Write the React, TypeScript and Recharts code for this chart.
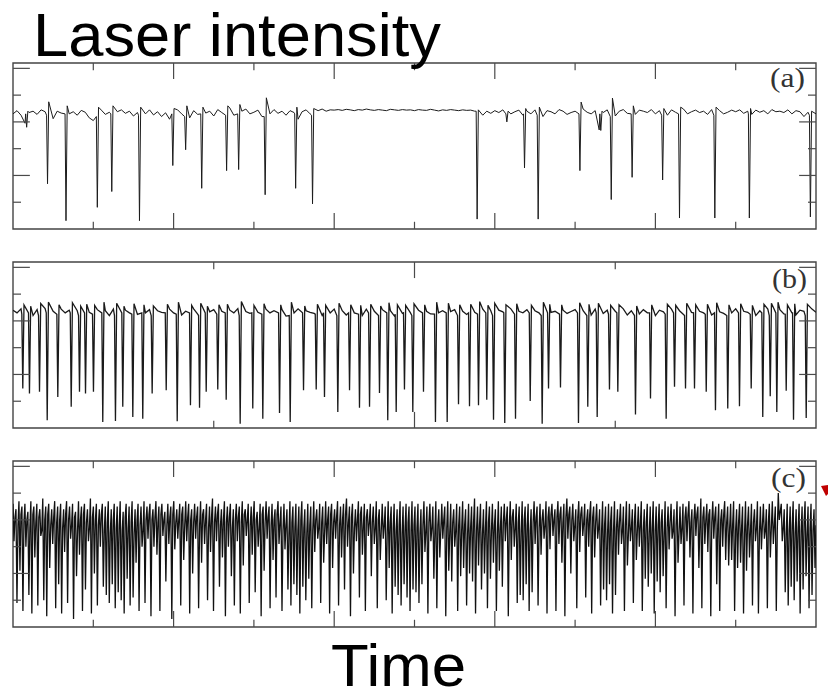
import React from 'react';
import { LineChart, Line, XAxis, YAxis, ReferenceArea, ReferenceLine } from 'recharts';

// ---------- tick positions ----------
const ticksAC = [10, 20, 30, 40, 50, 60, 70, 80, 90];
const ticksB = [25, 50, 75];
const ticksY = [1, 2, 3, 4, 5, 6];

// ---------- panel (a): baseline samples (every 0.5 time units) ----------
const aNoise = [
  4.30, 4.42, 4.25, 3.95, 4.35, 4.40, 4.28, 4.45, 4.38, 4.20, 4.12, 4.40, 4.33, 4.46, 4.30, 4.38, 4.25, 4.43, 4.36, 4.15,
  4.05, 4.30, 4.44, 4.28, 4.36, 4.10, 4.38, 4.45, 4.32, 4.40, 4.22, 4.35, 4.42, 4.30, 4.45, 4.26, 4.38, 4.20, 4.34, 4.10,
  4.38, 4.45, 4.30, 4.40, 4.15, 4.42, 4.28, 4.50, 4.33, 4.40, 4.22, 4.46, 4.35, 4.30, 4.52, 4.25, 4.05, 4.40, 4.48, 4.30,
  4.36, 4.44, 4.20, 4.38, 4.30, 4.46, 4.32, 4.40, 4.25, 4.42, 4.35, 4.10, 4.38, 4.45, 4.30, 4.20, 4.42, 4.48, 4.40, 4.45,
  4.44, 4.46, 4.43, 4.47, 4.45, 4.42, 4.46, 4.44, 4.48, 4.45, 4.43, 4.46, 4.44, 4.42, 4.47, 4.45, 4.43, 4.46, 4.44, 4.45,
  4.42, 4.46, 4.44, 4.43, 4.47, 4.44, 4.41, 4.45, 4.43, 4.46, 4.44, 4.42, 4.45, 4.43, 4.44, 4.40, 4.38, 4.25, 4.40, 4.32,
  4.42, 4.35, 4.45, 4.00, 4.30, 4.38, 4.44, 4.25, 4.40, 4.30, 4.45, 4.36, 4.20, 4.42, 4.38, 4.30, 4.46, 4.40, 4.28, 4.35,
  4.40, 4.25, 4.48, 4.36, 4.30, 4.42, 3.70, 4.35, 4.45, 4.38, 4.22, 4.40, 4.46, 4.32, 4.38, 4.28, 4.44, 4.40, 4.35, 4.46,
  4.30, 4.42, 4.38, 4.25, 4.45, 4.36, 4.40, 4.48, 4.30, 4.38, 4.44, 4.35, 4.40, 4.28, 4.46, 4.38, 4.42, 4.30, 4.36, 4.44,
  4.38, 4.45, 4.32, 4.40, 4.28, 4.44, 4.36, 4.42, 4.30, 4.46, 4.38, 4.40, 4.35, 4.45, 4.30, 4.42, 4.38, 4.20, 4.36, 4.10, 4.30,
];
// dropouts: [time, value just before, minimum, overshoot after]
const aSpikes = [
  [1.7, 4.3, 3.8, 4.4], [4.3, 4.25, 1.69, 4.75], [6.6, 4.3, 0.31, 4.6], [10.5, 4.2, 0.81, 4.55],
  [12.3, 4.3, 1.4, 4.6], [15.75, 4.25, 0.31, 4.55], [19.9, 4.3, 2.37, 4.5], [21.5, 4.2, 2.96, 4.6],
  [23.5, 4.3, 1.52, 4.55], [26.6, 4.25, 2.18, 4.6], [28.1, 4.3, 2.22, 4.65], [31.4, 4.2, 1.28, 4.9],
  [35.2, 4.3, 1.52, 4.55], [37.3, 4.25, 0.94, 4.5], [57.8, 4.4, 0.37, 4.45], [61.5, 4.3, 4.0, 4.4],
  [63.7, 4.3, 2.28, 4.5], [65.4, 4.25, 0.37, 4.55], [70.6, 4.3, 2.18, 4.74], [73.2, 4.3, 3.68, 4.4],
  [74.5, 4.2, 1.1, 4.89], [77.1, 4.3, 1.93, 4.6], [80.9, 4.25, 1.83, 4.5], [83.0, 4.3, 0.41, 4.55],
  [87.4, 4.25, 0.41, 4.55], [91.7, 4.3, 0.41, 4.5], [99.3, 4.25, 0.45, 4.4],
];

// ---------- panel (b) ----------
const bNoise = [
  4.40, 4.30, 4.45, 4.25, 4.38, 4.20, 4.42, 4.32, 4.46, 4.28, 4.36, 4.22, 4.44, 4.30, 4.40, 4.18, 4.38, 4.28, 4.45, 4.32,
  4.25, 4.42, 4.30, 4.38, 4.20, 4.44, 4.34, 4.26, 4.40, 4.30, 4.46, 4.24, 4.36, 4.30, 4.42, 4.20, 4.38, 4.32, 4.28, 4.44,
  4.30, 4.40, 4.22, 4.36, 4.30, 4.45, 4.25, 4.38, 4.20, 4.34, 4.42, 4.28, 4.36, 4.24, 4.40, 4.30, 4.46, 4.22, 4.35, 4.28,
  4.40, 4.32, 4.20, 4.44, 4.30, 4.38, 4.26, 4.42, 4.18, 4.36, 4.30, 4.45, 4.24, 4.38, 4.32, 4.28, 4.42, 4.20, 4.36, 4.30,
  4.44, 4.26, 4.38, 4.22, 4.40, 4.30, 4.35, 4.20, 4.44, 4.28, 4.36, 4.24, 4.42, 4.30, 4.38, 4.18, 4.34, 4.28, 4.45, 4.30,
  4.22, 4.40, 4.32, 4.36, 4.26, 4.44, 4.30, 4.38, 4.20, 4.35, 4.42, 4.28, 4.36, 4.24, 4.40, 4.32, 4.26, 4.44, 4.30, 4.38,
  4.22, 4.40, 4.34, 4.28, 4.45, 4.20, 4.36, 4.30, 4.42, 4.26, 4.38, 4.30, 4.24, 4.44, 4.32, 4.36, 4.20, 4.40, 4.28, 4.35,
  4.42, 4.26, 4.38, 4.30, 4.22, 4.44, 4.34, 4.28, 4.40, 4.24, 4.36, 4.30, 4.45, 4.22, 4.38, 4.32, 4.26, 4.42, 4.30, 4.36,
  4.20, 4.40, 4.34, 4.28, 4.44, 4.30, 4.38, 4.24, 4.42, 4.32, 4.26, 4.36, 4.30, 4.44, 4.22, 4.38, 4.34, 4.28, 4.40, 4.30,
  4.45, 4.24, 4.36, 4.32, 4.40, 4.20, 4.38, 4.30, 4.44, 4.28, 4.34, 4.42, 4.26, 4.38, 4.30, 4.22, 4.40, 4.36, 4.30, 4.44,
  4.32,
];
const bSpikes = [
  [1.22, 4.25, 1.48, 4.6], [2.05, 4.3, 1.29, 4.55], [3.3, 4.2, 1.35, 4.65], [4.26, 4.3, 0.29, 4.7],
  [5.58, 4.25, 1.16, 4.6], [7.25, 4.3, 0.79, 4.68], [8.28, 4.2, 1.35, 4.55], [9.03, 4.3, 1.29, 4.62],
  [10.02, 4.25, 1.35, 4.58], [11.18, 4.3, 0.22, 4.7], [12.76, 4.2, 0.26, 4.66], [13.67, 4.3, 0.79, 4.55],
  [14.92, 4.25, 0.41, 4.64], [16.16, 4.3, 0.35, 4.6], [17.33, 4.2, 1.29, 4.56], [19.08, 4.3, 1.41, 4.62],
  [20.45, 4.25, 0.25, 4.7], [22.1, 4.3, 0.85, 4.58], [23.23, 4.2, 0.76, 4.66], [24.06, 4.3, 1.35, 4.55],
  [25.5, 4.25, 1.44, 4.6], [26.55, 4.3, 1.06, 4.62], [28.29, 4.2, 0.16, 4.72], [29.86, 4.3, 0.73, 4.58],
  [31.11, 4.25, 0.35, 4.64], [33.19, 4.3, 0.56, 4.6], [34.52, 4.2, 0.22, 4.7], [36.18, 4.3, 1.41, 4.56],
  [37.76, 4.25, 1.44, 4.62], [38.79, 4.3, 1.16, 4.58], [40.45, 4.2, 0.6, 4.66], [41.91, 4.3, 1.41, 4.6],
  [43.15, 4.25, 0.76, 4.58], [44.4, 4.3, 0.79, 4.62], [45.64, 4.2, 1.31, 4.56], [46.67, 4.3, 0.29, 4.68],
  [47.72, 4.25, 0.6, 4.6], [48.75, 4.3, 1.44, 4.58], [49.79, 4.2, 0.6, 4.64], [51.12, 4.3, 1.35, 4.6],
  [52.61, 4.25, 0.22, 4.7], [54.07, 4.3, 0.22, 4.66], [55.48, 4.2, 0.89, 4.6], [56.85, 4.3, 0.81, 4.62],
  [57.97, 4.25, 0.85, 4.72], [59.0, 4.3, 1.06, 4.58], [59.84, 4.2, 0.31, 4.66], [61.24, 4.3, 0.19, 4.6],
  [62.58, 4.25, 0.35, 4.64], [64.41, 4.3, 1.01, 4.58], [65.9, 4.2, 0.16, 4.7], [66.69, 4.3, 1.48, 4.62],
  [68.18, 4.25, 1.51, 4.6], [70.42, 4.3, 0.19, 4.68], [71.58, 4.2, 0.79, 4.62], [72.75, 4.3, 0.41, 4.66],
  [74.28, 4.25, 1.44, 4.58], [75.32, 4.3, 1.35, 4.6], [77.52, 4.2, 0.5, 4.56], [79.39, 4.3, 1.1, 4.6],
  [81.34, 4.25, 0.35, 4.62], [82.38, 4.3, 1.54, 4.58], [83.75, 4.2, 1.48, 4.66], [84.87, 4.3, 1.48, 4.6],
  [86.33, 4.25, 1.35, 4.62], [87.48, 4.3, 0.66, 4.68], [89.01, 4.2, 0.73, 4.6], [90.47, 4.3, 0.81, 4.64],
  [91.93, 4.25, 1.48, 4.58], [93.37, 4.3, 0.41, 4.62], [94.3, 4.2, 1.19, 4.66], [95.12, 4.3, 0.6, 4.7],
  [96.29, 4.25, 1.39, 4.6], [97.2, 4.3, 0.31, 4.64], [98.78, 4.2, 0.37, 4.62],
];

// ---------- panel (c): evenly sampled trace (peak, trough) pairs ----------
const cTrace = [
  4.6,3.2, 4.4,0.9, 4.7,2.1, 4.5,0.6, 4.6,3.0, 4.3,1.2, 4.7,0.5, 4.5,2.6, 4.6,0.8, 4.4,3.4, 4.8,1.0, 4.5,0.4, 4.6,2.2, 4.4,3.1, 4.7,0.7,
  4.5,1.6, 4.6,0.5, 4.4,2.8, 4.7,0.9, 4.5,3.3, 4.6,0.3, 4.3,1.9, 4.7,2.7, 4.5,0.6, 4.6,1.4, 4.4,3.2, 4.8,0.5, 4.5,2.0, 4.6,0.8, 4.4,3.0,
  4.6,1.5, 4.5,1.2, 4.7,0.9, 4.4,1.6, 4.6,0.7, 4.5,1.3, 4.7,1.0, 4.3,0.5, 4.6,1.8, 4.5,0.8, 4.7,1.1, 4.4,2.4, 4.6,0.6, 4.5,3.0, 4.7,0.9,
  4.5,3.3, 4.6,0.4, 4.4,3.0, 4.7,2.7, 4.5,0.6, 4.6,3.4, 4.3,1.7, 4.6,3.1, 4.5,0.3, 4.7,2.9, 4.4,3.3, 4.6,0.8, 4.5,2.5, 4.7,3.2, 4.6,0.5,
  4.4,2.0, 4.6,3.3, 4.5,0.7, 4.7,2.4, 4.4,3.1, 4.6,1.0, 4.5,2.8, 4.8,0.6, 4.5,3.2, 4.6,1.5, 4.4,2.6, 4.7,0.4, 4.5,3.0, 4.6,1.9, 4.4,0.8,
  4.6,3.2, 4.5,0.5, 4.7,2.3, 4.4,3.4, 4.6,0.9, 4.5,2.7, 4.7,1.3, 4.3,3.0, 4.6,0.4, 4.5,2.1, 4.7,3.3, 4.5,0.7, 4.6,2.5, 4.4,1.1, 4.7,3.1,
  4.5,0.6, 4.6,2.9, 4.4,1.4, 4.7,0.8, 4.5,1.6, 4.6,1.2, 4.5,0.5, 4.7,1.5, 4.4,1.0, 4.6,1.8, 4.5,0.7, 4.7,2.8, 4.4,3.3, 4.6,0.9, 4.5,2.4,
  4.7,3.1, 4.5,0.5, 4.6,2.2, 4.4,3.3, 4.7,0.8, 4.5,2.6, 4.6,1.4, 4.8,3.0, 4.5,0.4, 4.6,2.0, 4.4,3.2, 4.7,1.1, 4.5,2.7, 4.6,0.6, 4.4,3.4,
  4.6,1.9, 4.5,3.1, 4.7,0.7, 4.4,2.5, 4.6,3.3, 4.5,1.0, 4.7,2.2, 4.5,0.5, 4.6,1.5, 4.4,1.2, 4.7,0.8, 4.5,1.6, 4.6,1.1, 4.5,0.6, 4.7,1.4,
  4.5,1.3, 4.6,0.9, 4.4,1.6, 4.7,2.8, 4.5,0.5, 4.6,3.2, 4.5,1.8, 4.7,0.7, 4.4,2.6, 4.6,3.3, 4.5,0.4, 4.7,2.1, 4.6,1.7, 4.4,3.0, 4.6,0.6,
  4.5,1.9, 4.7,2.2, 4.4,0.8, 4.6,2.0, 4.5,1.7, 4.8,0.5, 4.5,2.3, 4.6,1.4, 4.4,2.0, 4.7,0.7, 4.5,1.8, 4.6,2.4, 4.4,0.6, 4.7,2.1, 4.5,1.5,
  4.6,3.2, 4.5,0.4, 4.7,2.5, 4.4,3.0, 4.6,0.9, 4.5,1.2, 4.7,1.0, 4.5,1.6, 4.6,0.6, 4.4,1.3, 4.7,3.1, 4.5,0.8, 4.6,2.7, 4.4,3.3, 4.7,0.5,
  4.5,2.9, 4.6,3.4, 4.4,0.6, 4.7,3.1, 4.5,2.4, 4.6,0.4, 4.8,3.3, 4.5,2.0, 4.6,3.2, 4.4,0.7, 4.7,2.8, 4.5,3.4, 4.6,1.1, 4.4,3.0, 4.7,0.5,
  4.5,2.6, 4.6,3.3, 4.4,0.8, 4.7,1.4, 4.5,1.0, 4.6,1.6, 4.5,0.5, 4.7,1.2, 4.4,2.7, 4.6,3.1, 4.5,0.6, 4.7,2.3, 4.6,3.2, 4.4,0.9, 4.6,2.5,
  4.5,3.0, 4.7,0.6, 4.4,1.8, 4.6,1.5, 4.5,2.0, 4.7,0.5, 4.5,1.7, 4.6,1.3, 4.4,1.9, 4.7,0.7, 4.5,2.9, 4.6,3.3, 4.4,0.4, 4.7,2.4, 4.5,3.1,
  4.6,0.8, 4.5,3.2, 4.7,2.6, 4.4,0.5, 4.6,3.4, 4.5,2.2, 4.8,0.7, 4.5,3.1, 4.6,2.8, 4.4,0.4, 4.7,3.3, 4.5,1.6, 4.6,0.6, 4.4,3.0, 4.7,2.5,
  4.5,2.3, 4.6,2.5, 4.7,0.6, 4.4,2.2, 4.6,2.4, 4.5,0.5, 4.7,2.1, 4.5,2.6, 4.6,0.8, 4.4,3.2, 4.7,0.5, 4.5,2.9, 4.6,3.3, 4.4,0.7, 4.6,2.6,
  4.7,3.1, 4.5,0.6, 5.0,4.0, 4.6,3.2, 4.4,1.3, 4.6,0.8, 4.5,1.5, 4.7,1.0, 4.4,1.7, 4.6,0.5, 4.5,1.4, 4.7,1.9, 4.5,0.7, 4.6,1.2, 4.4,2.2,
];
// small in-band fluctuation sampled right after each trough
const cBand = [
  4.1,3.8,4.2,3.9,4.0,3.7,4.2,3.9,4.1,3.6,4.0,4.2,3.8,4.1,3.9,
  4.0,3.7,4.2,4.0,3.8,4.1,3.6,4.0,4.2,3.9,3.7,4.1,4.0,3.8,4.2,
  3.6,3.9,3.5,4.0,3.7,3.8,3.6,4.1,3.7,3.9,3.5,4.0,3.8,3.6,4.0,
  4.2,4.0,4.1,3.9,4.2,4.0,3.8,4.1,4.2,3.9,4.0,4.2,3.8,4.1,4.0,
  3.9,4.1,3.8,4.2,4.0,3.7,4.1,3.9,4.2,3.8,4.0,3.9,4.1,3.7,4.0,
  4.1,3.9,4.2,4.0,3.8,4.1,4.0,3.7,4.2,3.9,4.1,3.8,4.0,4.2,3.9,
  3.6,3.8,3.5,3.9,3.7,3.6,4.0,3.7,3.5,3.8,3.6,4.0,3.7,3.9,3.6,
  4.0,4.2,3.9,4.1,3.8,4.0,4.2,3.9,4.1,3.7,4.0,4.2,3.8,4.1,3.9,
  3.9,3.7,4.0,3.6,3.8,3.5,3.9,3.7,3.6,3.8,3.5,3.7,3.9,3.6,3.8,
  3.7,3.5,3.8,3.6,3.9,3.7,3.5,3.8,3.6,4.0,3.7,3.5,3.9,3.6,3.8,
  3.6,3.8,3.5,3.7,3.9,3.6,3.8,3.5,3.7,3.9,3.6,3.8,3.5,3.7,3.9,
  4.0,3.8,4.1,3.7,3.9,3.6,4.0,3.8,3.6,3.9,4.1,3.7,4.0,3.8,4.1,
  4.2,4.0,4.1,4.2,3.9,4.1,4.2,4.0,3.8,4.1,4.2,3.9,4.0,4.2,4.1,
  3.9,3.7,3.6,3.8,3.5,3.9,3.6,3.7,3.9,3.6,3.8,3.5,3.7,3.9,3.6,
  3.8,3.6,3.9,3.5,3.7,3.6,3.8,3.9,3.5,3.7,3.9,3.6,3.8,3.5,3.7,
  4.1,4.2,3.9,4.0,4.2,3.8,4.1,4.0,4.2,3.9,4.1,3.8,4.0,4.2,3.9,
  3.7,3.8,3.6,3.9,3.7,3.5,3.8,3.6,3.9,3.7,3.5,3.8,3.6,3.9,3.7,
  3.8,3.6,4.3,3.7,3.5,3.6,3.8,3.5,3.7,3.6,3.9,3.5,3.7,3.6,3.8,
];

// ---------- build tables ----------
type Pt = { t: number; v: number };
function buildSpiky(noise: number[], spikes: number[][]): Pt[] {
  const step = 100 / (noise.length - 1);
  const pts: Pt[] = [];
  noise.forEach((v, i) => {
    const t = i * step;
    if (spikes.some((s) => t > s[0] - 0.2 && t < s[0] + 0.3)) return;
    pts.push({ t, v });
  });
  spikes.forEach(([t, pre, low, over]) => {
    pts.push({ t: t - 0.12, v: pre });
    pts.push({ t, v: low });
    pts.push({ t: t + 0.15, v: over });
  });
  pts.sort((a, b) => a.t - b.t);
  return pts;
}
function buildDense(trace: number[], band: number[]): Pt[] {
  const seq: number[] = [];
  for (let i = 0; i < band.length; i++) {
    seq.push(trace[2 * i], trace[2 * i + 1], band[i]);
  }
  return seq.map((v, i) => ({ t: (i * 100) / (seq.length - 1), v }));
}
const aData = buildSpiky(aNoise, aSpikes);
const bData = buildSpiky(bNoise, bSpikes);
const cData = buildDense(cTrace, cBand);

const YMAX = 6.2;
const TICK_COLOR = '#4a4a4a';

function Panel({ data, top, ticksX, stepX, lw, color }: { data: Pt[]; top: number; ticksX: number[]; stepX: number; lw: number; color: string }) {
  const xLen = (v: number) => (Math.round(v / stepX) % 2 === 0 ? 0.6 : 0.27);
  const yLen = (v: number) => (v % 2 === 0 ? 2.1 : 1.0);
  return (
    <div style={{ position: 'absolute', left: 10, top, width: 809, height: 172 }}>
      <LineChart width={809} height={172} data={data} margin={{ top: 3, right: 3, bottom: 3, left: 3 }}>
        <XAxis type="number" dataKey="t" domain={[0, 100]} hide allowDataOverflow />
        <YAxis type="number" domain={[0, YMAX]} hide allowDataOverflow />
        <Line type="linear" dataKey="v" stroke={color} strokeWidth={lw} dot={false} isAnimationActive={false} />
        {ticksX.map((v) => (
          <ReferenceLine key={'xt' + v} segment={[{ x: v, y: YMAX }, { x: v, y: YMAX - xLen(v) }]} stroke={TICK_COLOR} strokeWidth={1.2} />
        ))}
        {ticksX.map((v) => (
          <ReferenceLine key={'xb' + v} segment={[{ x: v, y: 0 }, { x: v, y: xLen(v) }]} stroke={TICK_COLOR} strokeWidth={1.2} />
        ))}
        {ticksY.map((v) => (
          <ReferenceLine key={'yl' + v} segment={[{ x: 0, y: v }, { x: yLen(v), y: v }]} stroke={TICK_COLOR} strokeWidth={1.2} />
        ))}
        {ticksY.map((v) => (
          <ReferenceLine key={'yr' + v} segment={[{ x: 100, y: v }, { x: 100 - yLen(v), y: v }]} stroke={TICK_COLOR} strokeWidth={1.2} />
        ))}
        <ReferenceArea x1={0} x2={100} y1={0} y2={YMAX} fill="none" fillOpacity={0} stroke="#444" strokeWidth={1.4} />
      </LineChart>
    </div>
  );
}

export default function App() {
  const serif = '"Liberation Serif", "Times New Roman", serif';
  const sans = '"Liberation Sans", Arial, sans-serif';
  return (
    <div style={{ position: 'absolute', left: 0, top: 0, width: 828, height: 700, background: '#fff', overflow: 'hidden' }}>
      <Panel data={aData} top={60} ticksX={ticksAC} stepX={10} lw={1} color="#1c1c1c" />
      <Panel data={bData} top={259} ticksX={ticksB} stepX={25} lw={1.3} color="#1a1a1a" />
      <Panel data={cData} top={458} ticksX={ticksAC} stepX={10} lw={1.3} color="#111" />
      <svg width={828} height={700} style={{ position: 'absolute', left: 0, top: 0, pointerEvents: 'none' }}>
        <text x={33} y={56} fontFamily={sans} fontSize={62} fill="#000" textLength={408} lengthAdjust="spacingAndGlyphs">Laser intensity</text>
        <text x={331} y={686} fontFamily={sans} fontSize={60} fill="#000" textLength={135} lengthAdjust="spacingAndGlyphs">Time</text>
        <text x={770} y={87} fontFamily={serif} fontSize={27} fill="#333" textLength={35} lengthAdjust="spacingAndGlyphs">(a)</text>
        <text x={772} y={288} fontFamily={serif} fontSize={27} fill="#333" textLength={35} lengthAdjust="spacingAndGlyphs">(b)</text>
        <text x={771} y={487} fontFamily={serif} fontSize={27} fill="#333" textLength={35} lengthAdjust="spacingAndGlyphs">(c)</text>
        <polygon points="821,486 828,485 828,494 826,496" fill="#c00000" />
      </svg>
    </div>
  );
}
